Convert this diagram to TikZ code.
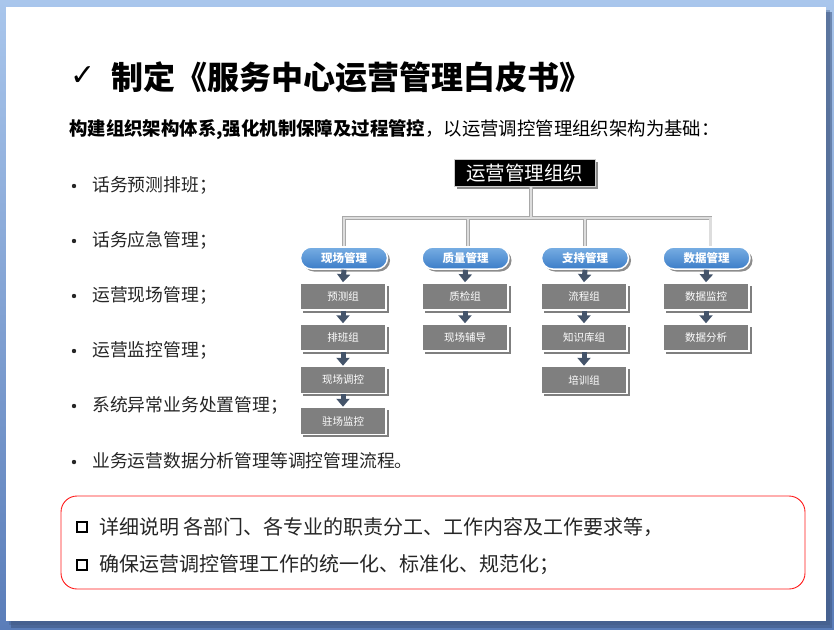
\documentclass[tikz,border=0pt]{standalone}
\usepackage{fontspec}
\setmainfont{Noto Sans CJK SC}
\newfontfamily\symfont{DejaVu Sans}
\usetikzlibrary{shadows,arrows.meta,calc}
\definecolor{bgtop}{HTML}{A9C6EC}
\definecolor{bgbot}{HTML}{5A7DB9}
\definecolor{slideshadow}{HTML}{3E5680}
\definecolor{txt}{HTML}{262626}
\definecolor{boxgray}{HTML}{7F7F7F}
\definecolor{pilltop}{HTML}{78AEE3}
\definecolor{pillbot}{HTML}{3C7DC8}
\definecolor{arrc}{HTML}{44546A}
\definecolor{connc}{HTML}{DDDDDD}
\definecolor{connedge}{HTML}{A8A8A8}
\definecolor{redc}{HTML}{FF1A1A}
\tikzset{
  lefttext/.style={anchor=west, inner sep=0pt, text=txt},
  bulletdot/.style={circle, fill=txt, inner sep=0pt, minimum size=4.4pt},
  orgtop/.style={fill=black, draw=gray!40, line width=0.8pt, minimum width=141, minimum height=27,
    text=white, font=\fontsize{19.5}{19.5}\selectfont,
    drop shadow={shadow xshift=2.5pt, shadow yshift=-2.5pt, opacity=0.45, fill=black}},
  pill/.style={rounded corners=11pt, top color=pilltop, bottom color=pillbot, draw=white, line width=1.5pt,
    minimum width=87, minimum height=22, text=white, font=\bfseries\fontsize{11.5}{11.5}\selectfont,
    drop shadow={shadow xshift=2.5pt, shadow yshift=-2.5pt, opacity=0.45, fill=black}},
  graybox/.style={fill=boxgray, draw=white, line width=1.5pt, minimum width=86, minimum height=27,
    text=white, font=\fontsize{10.5}{10.5}\selectfont,
    drop shadow={shadow xshift=2.5pt, shadow yshift=-2.5pt, opacity=0.5, fill=black}},
  darr/.style={draw=arrc, line width=5pt, -{Triangle[width=13pt,length=8pt]}},
  connout/.style={draw=connedge, line width=3.8pt},
  connin/.style={draw=connc, line width=2.2pt},
  chkbox/.style={draw=black, line width=2.4pt, minimum size=10pt, inner sep=0pt},
}
\begin{document}
\begin{tikzpicture}[x=1pt,y=-1pt]
\useasboundingbox (0,0) rectangle (834,629);
% background frame and slide
\shade[top color=bgtop, bottom color=bgbot] (0,0) rectangle (834,629);
\fill[slideshadow, opacity=0.55] (11,12) rectangle (832,628);
\fill[slideshadow, opacity=0.35] (9,10) rectangle (830,625);
\fill[white] (6,7) rectangle (826,621);

% title
\node[lefttext, font=\symfont\fontsize{30}{30}\selectfont, text=black] (chk) at (70,76) {✓};
\node[lefttext, font=\bfseries\fontsize{32}{32}\selectfont, text=black] (title) at (111,77) {制定《服务中心运营管理白皮书》};

% subtitle
\node[lefttext, font=\fontsize{18.4}{18.4}\selectfont, text=black] (sub) at (69,130)
  {\textbf{构建组织架构体系,强化机制保障及过程管控}，以运营调控管理组织架构为基础：};

% bullet list
\node[bulletdot] (d1) at (74,186) {};
\node[bulletdot] (d2) at (74,241) {};
\node[bulletdot] (d3) at (74,296) {};
\node[bulletdot] (d4) at (74,351) {};
\node[bulletdot] (d5) at (74,406) {};
\node[bulletdot] (d6) at (74,462) {};
\node[lefttext, font=\fontsize{17.8}{17.8}\selectfont] (b1) at (92,185) {话务预测排班；};
\node[lefttext, font=\fontsize{17.8}{17.8}\selectfont] (b2) at (92,240) {话务应急管理；};
\node[lefttext, font=\fontsize{17.8}{17.8}\selectfont] (b3) at (92,295) {运营现场管理；};
\node[lefttext, font=\fontsize{17.8}{17.8}\selectfont] (b4) at (92,350) {运营监控管理；};
\node[lefttext, font=\fontsize{17.8}{17.8}\selectfont] (b5) at (92,405) {系统异常业务处置管理；};
\node[lefttext, font=\fontsize{17.8}{17.8}\selectfont] (b6) at (92,461) {业务运营数据分析管理等调控管理流程。};

% org chart
\node[orgtop] (org) at (524.5,173) {运营管理组织};
\node[pill] (p1) at (344,258) {现场管理};
\node[pill] (p2) at (465.5,258) {质量管理};
\node[pill] (p3) at (585,258) {支持管理};
\node[pill] (p4) at (706.5,258) {数据管理};
\coordinate (bar) at (531,218);

\foreach \st in {connout,connin}{
  \draw[\st] ([xshift=6.5pt]org.south) -- (bar);
  \draw[\st] (p1.north) |- (bar) -| ([xshift=4pt]p4.north);
  \draw[\st] ([xshift=2.5pt]p2.north) -- ([xshift=2.5pt]p2.north |- bar);
  \draw[\st] (p3.north) -- (p3.north |- bar);
}

\node[graybox] (g11) at (343,296.5) {预测组};
\node[graybox] (g12) at (343,337.5) {排班组};
\node[graybox] (g13) at (343,380) {现场调控};
\node[graybox] (g14) at (343,421) {驻场监控};
\node[graybox] (g21) at (465,296.5) {质检组};
\node[graybox] (g22) at (465,337.5) {现场辅导};
\node[graybox] (g31) at (584,296.5) {流程组};
\node[graybox] (g32) at (584,337.5) {知识库组};
\node[graybox] (g33) at (584,380) {培训组};
\node[graybox] (g41) at (706,296.5) {数据监控};
\node[graybox] (g42) at (706,337.5) {数据分析};

\draw[darr] (p1.south) -- (g11.north);
\draw[darr] (g11.south) -- (g12.north);
\draw[darr] (g12.south) -- (g13.north);
\draw[darr] (g13.south) -- (g14.north);
\draw[darr] (p2.south) -- (g21.north);
\draw[darr] (g21.south) -- (g22.north);
\draw[darr] (p3.south) -- (g31.north);
\draw[darr] (g31.south) -- (g32.north);
\draw[darr] (g32.south) -- (g33.north);
\draw[darr] (p4.south) -- (g41.north);
\draw[darr] (g41.south) -- (g42.north);

% bottom box
\node[draw=redc, line width=0.9pt, rounded corners=16pt, minimum width=744, minimum height=93] (note) at (433,542.5) {};
\node[chkbox] (s1) at (82,527) {};
\node[chkbox] (s2) at (82,565) {};
\node[lefttext, font=\fontsize{20}{20}\selectfont] (n1) at (99,527) {详细说明 各部门、各专业的职责分工、工作内容及工作要求等，};
\node[lefttext, font=\fontsize{20}{20}\selectfont] (n2) at (99,565) {确保运营调控管理工作的统一化、标准化、规范化；};
\end{tikzpicture}
\end{document}
